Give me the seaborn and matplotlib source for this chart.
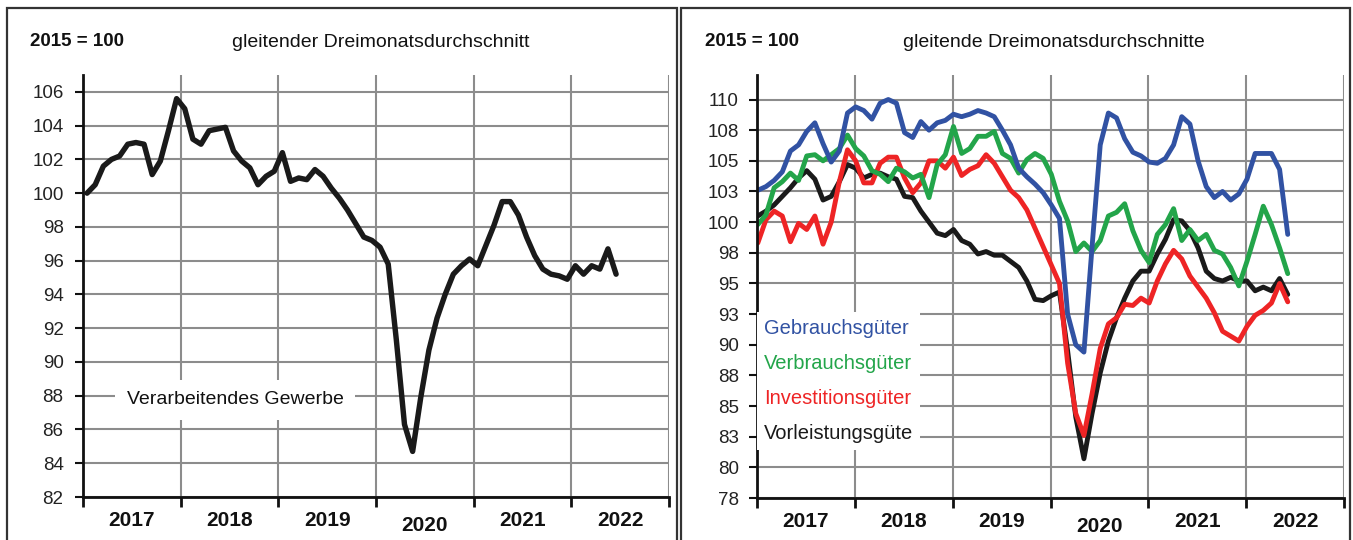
"""Produktion im Verarbeitenden Gewerbe, gleitende Dreimonatsdurchschnitte"""
import numpy as np
import pandas as pd
import matplotlib

matplotlib.use("Agg")
import matplotlib.pyplot as plt
from matplotlib.lines import Line2D
from matplotlib.patches import Rectangle
import seaborn as sns

# Jahre auf der x-Achse, monatliche Werte ab Januar 2017
years = ["2017", "2018", "2019", "2020", "2021", "2022"]

gewerbe = [
    100.0, 100.5, 101.6, 102.0, 102.2, 102.9, 103.0, 102.9, 101.1, 101.9, 103.7, 105.6,
    105.0, 103.2, 102.9, 103.7, 103.8, 103.9, 102.5, 101.9, 101.5, 100.5, 101.0, 101.3,
    102.4, 100.7, 100.9, 100.8, 101.4, 101.0, 100.3, 99.7, 99.0, 98.2, 97.4, 97.2,
    96.8, 95.8, 91.3, 86.3, 84.7, 87.9, 90.7, 92.6, 94.0, 95.2, 95.7, 96.1,
    95.7, 96.9, 98.1, 99.5, 99.5, 98.7, 97.4, 96.3, 95.5, 95.2, 95.1, 94.9,
    95.7, 95.2, 95.7, 95.5, 96.7, 95.2,
]

gebrauch = [
    102.6, 102.9, 103.4, 104.1, 105.8, 106.3, 107.4, 108.1, 106.4, 104.9, 105.8, 108.9,
    109.4, 109.1, 108.4, 109.7, 110.0, 109.7, 107.3, 106.9, 108.2, 107.5, 108.1, 108.3,
    108.8, 108.6, 108.8, 109.1, 108.9, 108.6, 107.5, 106.3, 104.4, 103.7, 103.1, 102.4,
    101.4, 100.3, 92.5, 90.0, 89.4, 98.0, 106.3, 108.9, 108.5, 106.8, 105.7, 105.4,
    104.9, 104.8, 105.2, 106.3, 108.6, 108.0, 105.0, 102.9, 102.0, 102.5, 101.8, 102.3,
    103.5, 105.6, 105.6, 105.6, 104.3, 99.0,
]

verbrauch = [
    99.8, 100.6, 102.8, 103.3, 104.0, 103.4, 105.4, 105.5, 105.0, 105.5, 106.0, 107.1,
    106.0, 105.4, 104.2, 103.9, 103.3, 104.4, 104.1, 103.6, 103.9, 102.0, 104.7, 105.5,
    107.8, 105.6, 106.0, 107.0, 107.0, 107.4, 105.6, 105.2, 104.0, 105.1, 105.6, 105.2,
    103.9, 101.7, 100.1, 97.6, 98.3, 97.6, 98.5, 100.5, 100.8, 101.5, 99.3, 97.7,
    96.7, 99.0, 99.8, 101.1, 98.5, 99.4, 98.5, 99.0, 97.7, 97.4, 96.3, 94.8,
    96.8, 99.0, 101.3, 99.8, 97.9, 95.8,
]

investition = [
    98.3, 100.2, 100.9, 100.5, 98.4, 99.9, 99.4, 100.5, 98.2, 100.0, 103.3, 105.9,
    105.0, 103.2, 103.2, 104.8, 105.3, 105.3, 103.6, 102.4, 103.2, 105.0, 105.0, 104.4,
    105.3, 103.8, 104.3, 104.6, 105.5, 104.8, 103.7, 102.6, 102.0, 101.0, 99.5, 98.0,
    96.5, 95.0, 88.5, 84.4, 82.6, 86.0, 89.7, 91.7, 92.2, 93.3, 93.2, 93.8,
    93.4, 95.2, 96.6, 97.7, 97.0, 95.6, 94.7, 93.8, 92.6, 91.1, 90.7, 90.3,
    91.5, 92.4, 92.8, 93.4, 95.0, 93.5,
]

vorleistung = [
    100.5, 100.9, 101.4, 102.1, 102.8, 103.6, 104.2, 103.5, 101.8, 102.1, 103.3, 104.7,
    104.4, 103.6, 103.9, 104.0, 103.7, 103.5, 102.1, 102.0, 100.9, 100.0, 99.1, 98.9,
    99.4, 98.5, 98.2, 97.4, 97.6, 97.3, 97.3, 96.8, 96.3, 95.2, 93.7, 93.6,
    94.0, 94.3, 89.5, 84.1, 80.7, 84.4, 87.7, 90.3, 92.2, 93.8, 95.2, 96.0,
    96.0, 97.4, 98.6, 100.2, 100.1, 99.3, 97.9, 96.0, 95.4, 95.2, 95.5, 95.2,
    95.2, 94.4, 94.7, 94.4, 95.4, 94.1,
]

gruppen = ["Gebrauchsgüter", "Verbrauchsgüter", "Investitionsgüter", "Vorleistungsgüte"]
farben = ["#3152a3", "#23a54a", "#ee2425", "#1a1a1a"]

left_yticks = np.arange(82, 107, 2)
right_yticks = np.arange(77.5, 110.1, 2.5)

sns.set_theme(style="whitegrid")
plt.rcParams["font.family"] = ["Liberation Sans", "DejaVu Sans"]

W, H = 1353, 540
fig = plt.figure(figsize=(W / 100, H / 100), dpi=100)


def px(x0, y0, x1, y1):
    """Pixelbox -> Figurenkoordinaten."""
    return [x0 / W, 1 - y1 / H, (x1 - x0) / W, (y1 - y0) / H]


def style_axes(ax, ylim, yticks, ylabels, ypad):
    ax.set_xlim(0, 72)
    ax.set_ylim(*ylim)
    ax.set_xticks(np.arange(0, 73, 12))
    ax.set_xticklabels([])
    ax.set_xticks(np.arange(6, 72, 12), minor=True)
    ax.set_xticklabels(years, minor=True, fontsize=15, fontweight="bold")
    ax.tick_params(axis="x", which="major", bottom=True, length=7, width=2,
                   color="#111111", direction="out")
    ax.tick_params(axis="x", which="minor", bottom=True, length=0, pad=10,
                   labelcolor="#111111")
    ax.set_yticks(yticks)
    ax.set_yticklabels(ylabels, fontsize=13.5)
    ax.tick_params(axis="y", left=True, length=6, width=1.5, color="#111111",
                   pad=ypad, labelcolor="#222222")
    ax.grid(True, which="major", color="#8c8c8c", lw=1.5)
    ax.grid(False, which="minor")
    for s in ["top", "right"]:
        ax.spines[s].set_visible(False)
    for s in ["left", "bottom"]:
        ax.spines[s].set_color("#111111")
        ax.spines[s].set_linewidth(2)
        ax.spines[s].set_zorder(3)
    ax.set_xlabel("")
    ax.set_ylabel("")
    ax.set_facecolor("white")


# Panelrahmen
for x0, x1 in [(7, 677), (681, 1350)]:
    fig.add_artist(Rectangle((x0 / W, -0.01), (x1 - x0) / W, 1 - 8 / H + 0.01,
                             transform=fig.transFigure, fill=False,
                             ec="#333333", lw=1.6))

# linkes Diagramm
ax1 = fig.add_axes(px(83, 75, 669, 497))
n = len(gewerbe)
df1 = pd.DataFrame({"monat": np.arange(n) + 0.5, "wert": gewerbe})
sns.lineplot(data=df1, x="monat", y="wert", ax=ax1, color="#1a1a1a", lw=3.9)
style_axes(ax1, (82, 107), left_yticks, [str(v) for v in left_yticks], 8)
ax1.text(0.26, 0.23, "Verarbeitendes Gewerbe", transform=ax1.transAxes,
         ha="center", va="center", fontsize=14, color="#111111",
         bbox=dict(boxstyle="square,pad=0.6", fc="white", ec="none"), zorder=4)
# Jahreszahl 2020 sitzt im Original etwas tiefer
ax1.get_xticklabels(minor=True)[3].set_y(-0.012)

fig.text(30 / W, 1 - 46 / H, "2015 = 100", fontsize=13.5, fontweight="bold",
         ha="left", va="baseline", color="#111111")
fig.text(381 / W, 1 - 47 / H, "gleitender Dreimonatsdurchschnitt", fontsize=14,
         ha="center", va="baseline", color="#111111")

# rechtes Diagramm
ax2 = fig.add_axes(px(757, 75, 1344, 498))
reihen = [gebrauch, verbrauch, investition, vorleistung]
df2 = pd.DataFrame({
    "monat": np.tile(np.arange(n) + 0.1, len(gruppen)),
    "wert": np.concatenate(reihen),
    "gruppe": np.repeat(gruppen, n),
})
zeichen_folge = [gruppen[3], gruppen[2], gruppen[1], gruppen[0]]
for g in zeichen_folge:
    sns.lineplot(data=df2[df2["gruppe"] == g], x="monat", y="wert", ax=ax2,
                 color=farben[gruppen.index(g)], lw=3.5)
ylab2 = [str(int(np.floor(v + 0.5))) for v in right_yticks]
style_axes(ax2, (77.5, 112), right_yticks, ylab2, 7)
ax2.get_xticklabels(minor=True)[3].set_y(-0.012)

handles = [Line2D([], [], color=c) for c in farben]
leg = ax2.legend(handles, gruppen, loc="upper left", bbox_to_anchor=(0, 0.44),
                 handlelength=0, handletextpad=0, labelcolor=farben,
                 fontsize=14.5, labelspacing=0.8, borderpad=0.35,
                 borderaxespad=0, frameon=True, fancybox=False,
                 framealpha=1, facecolor="white", edgecolor="none")
leg.set_zorder(4)

fig.text(705 / W, 1 - 46 / H, "2015 = 100", fontsize=13.5, fontweight="bold",
         ha="left", va="baseline", color="#111111")
fig.text(1054 / W, 1 - 47 / H, "gleitende Dreimonatsdurchschnitte", fontsize=14,
         ha="center", va="baseline", color="#111111")

fig.savefig("out.png", dpi=100, facecolor="white")
plt.close(fig)
